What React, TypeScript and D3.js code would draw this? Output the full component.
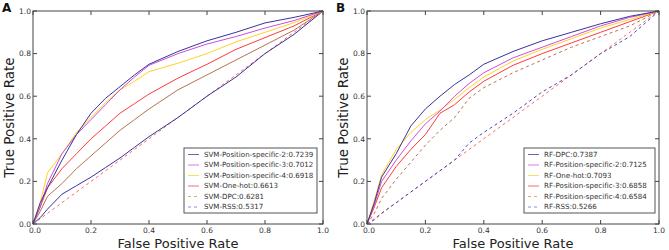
import React, { useEffect, useRef } from 'react';
import * as d3 from 'd3';

// shared false positive rate grid
const fpr = [0, 0.025, 0.05, 0.1, 0.15, 0.2, 0.25, 0.3, 0.35, 0.4, 0.5, 0.6, 0.7, 0.8, 0.9, 1];
const ticks = [0, 0.2, 0.4, 0.6, 0.8, 1.0];

// panel A - SVM
const svmPs2 = [0, 0.10, 0.17, 0.30, 0.42, 0.52, 0.59, 0.645, 0.70, 0.75, 0.81, 0.86, 0.90, 0.944, 0.97, 1];
const svmPs3 = [0, 0.08, 0.19, 0.33, 0.42, 0.49, 0.56, 0.63, 0.69, 0.745, 0.80, 0.845, 0.88, 0.92, 0.955, 1];
const svmPs4 = [0, 0.10, 0.24, 0.33, 0.43, 0.50, 0.57, 0.63, 0.67, 0.715, 0.755, 0.80, 0.855, 0.90, 0.945, 1];
const svmOneHot = [0, 0.08, 0.17, 0.26, 0.33, 0.40, 0.46, 0.52, 0.565, 0.61, 0.685, 0.75, 0.82, 0.875, 0.93, 1];
const svmDpc = [0, 0.06, 0.13, 0.19, 0.26, 0.32, 0.38, 0.44, 0.49, 0.54, 0.63, 0.70, 0.77, 0.84, 0.91, 1];
const svmRss = [0, 0.03, 0.07, 0.14, 0.18, 0.22, 0.265, 0.31, 0.36, 0.41, 0.50, 0.60, 0.69, 0.80, 0.89, 1];

// panel B - RF
const rfDpc = [0, 0.10, 0.22, 0.33, 0.46, 0.54, 0.60, 0.655, 0.70, 0.75, 0.81, 0.86, 0.90, 0.94, 0.975, 1];
const rfPs2 = [0, 0.09, 0.20, 0.30, 0.39, 0.47, 0.53, 0.60, 0.66, 0.71, 0.78, 0.83, 0.88, 0.93, 0.97, 1];
const rfOneHot = [0, 0.11, 0.23, 0.35, 0.43, 0.49, 0.535, 0.585, 0.64, 0.69, 0.765, 0.82, 0.87, 0.92, 0.96, 1];
const rfPs3 = [0, 0.08, 0.17, 0.27, 0.35, 0.42, 0.52, 0.56, 0.62, 0.67, 0.745, 0.80, 0.85, 0.90, 0.95, 1];
const rfPs4 = [0, 0.05, 0.12, 0.21, 0.29, 0.37, 0.44, 0.50, 0.59, 0.64, 0.71, 0.77, 0.83, 0.88, 0.93, 1];
const rfRss = [0, 0.02, 0.05, 0.10, 0.15, 0.20, 0.25, 0.30, 0.38, 0.43, 0.52, 0.62, 0.70, 0.80, 0.88, 1];

const NAVY = '#35359c';
const VIOLET = '#cf4ddc';
const GOLD = '#ffd224';
const RED = '#ff3a3a';
const BROWN = '#b5744f';
const SALMON = '#ff6a6a';
const BLUE_DASH = '#4848b8';

type Series = { name: string; values: number[]; color: string; dash: boolean; legendColor: string };

const panelA: Series[] = [
  { name: 'SVM-Position-specific-2:0.7239', values: svmPs2, color: NAVY, dash: false, legendColor: NAVY },
  { name: 'SVM-Position-specific-3:0.7012', values: svmPs3, color: VIOLET, dash: false, legendColor: VIOLET },
  { name: 'SVM-Position-specific-4:0.6918', values: svmPs4, color: GOLD, dash: false, legendColor: GOLD },
  { name: 'SVM-One-hot:0.6613', values: svmOneHot, color: RED, dash: false, legendColor: RED },
  { name: 'SVM-DPC:0.6281', values: svmDpc, color: BROWN, dash: false, legendColor: '#e0805f' },
  { name: 'SVM-RSS:0.5317', values: svmRss, color: NAVY, dash: false, legendColor: '#6a6ad0' },
];

const panelB: Series[] = [
  { name: 'RF-DPC:0.7387', values: rfDpc, color: NAVY, dash: false, legendColor: NAVY },
  { name: 'RF-Position-specific-2:0.7125', values: rfPs2, color: VIOLET, dash: false, legendColor: VIOLET },
  { name: 'RF-One-hot:0.7093', values: rfOneHot, color: GOLD, dash: false, legendColor: GOLD },
  { name: 'RF-Position-specific-3:0.6858', values: rfPs3, color: RED, dash: false, legendColor: RED },
  { name: 'RF-Position-specific-4:0.6584', values: rfPs4, color: BROWN, dash: true, legendColor: '#e0805f' },
  { name: 'RF-RSS:0.5266', values: rfRss, color: BLUE_DASH, dash: true, legendColor: '#6a6ad0' },
];

const App = () => {
  const ref = useRef<SVGSVGElement>(null);

  useEffect(() => {
    const svg = d3.select(ref.current);
    svg.selectAll('*').remove();

    const drawPanel = (letter: string, series: Series[], left: number, right: number, legendBox: number[]) => {
      const top = 11;
      const bottom = 224;
      const x = d3.scaleLinear().domain([0, 1]).range([left, right]);
      const y = d3.scaleLinear().domain([0, 1]).range([bottom, top]);
      const g = svg.append('g');

      // panel letter
      g.append('text')
        .attr('x', left - 31)
        .attr('y', 12)
        .attr('font-size', 12)
        .attr('font-weight', 'bold')
        .attr('fill', '#111')
        .text(letter);

      // chance diagonal
      g.append('line')
        .attr('x1', x(0)).attr('y1', y(0))
        .attr('x2', x(1)).attr('y2', y(1))
        .attr('stroke', SALMON)
        .attr('stroke-width', 1)
        .attr('stroke-dasharray', '3,3');

      const line = d3.line<number>()
        .x((d, i) => x(fpr[i]))
        .y(d => y(d));

      // draw lower curves first so the top ones sit above
      series.slice().reverse().forEach(s => {
        g.append('path')
          .datum(s.values)
          .attr('fill', 'none')
          .attr('stroke', s.color)
          .attr('stroke-width', 1)
          .attr('stroke-dasharray', s.dash ? '3,3' : null)
          .attr('d', line);
      });

      // frame
      g.append('rect')
        .attr('x', left).attr('y', top)
        .attr('width', right - left).attr('height', bottom - top)
        .attr('fill', 'none')
        .attr('stroke', '#444')
        .attr('stroke-width', 1);

      // inward ticks on all four sides
      ticks.forEach(t => {
        g.append('line').attr('x1', x(t)).attr('x2', x(t)).attr('y1', bottom).attr('y2', bottom - 4).attr('stroke', '#444');
        g.append('line').attr('x1', x(t)).attr('x2', x(t)).attr('y1', top).attr('y2', top + 4).attr('stroke', '#444');
        g.append('line').attr('x1', left).attr('x2', left + 4).attr('y1', y(t)).attr('y2', y(t)).attr('stroke', '#444');
        g.append('line').attr('x1', right).attr('x2', right - 4).attr('y1', y(t)).attr('y2', y(t)).attr('stroke', '#444');

        g.append('text')
          .attr('x', x(t) + (t === 0 ? 2 : 0))
          .attr('y', bottom + 9)
          .attr('text-anchor', 'middle')
          .attr('font-size', 7.5)
          .attr('fill', '#333')
          .text(t.toFixed(1));

        g.append('text')
          .attr('x', left - 2)
          .attr('y', y(t) + 2.7)
          .attr('text-anchor', 'end')
          .attr('font-size', 7.5)
          .attr('fill', '#333')
          .text(t.toFixed(1));
      });

      // axis labels
      g.append('text')
        .attr('x', (left + right) / 2)
        .attr('y', 248)
        .attr('text-anchor', 'middle')
        .attr('font-size', 13)
        .attr('fill', '#222')
        .text('False Positive Rate');

      g.append('text')
        .attr('transform', `translate(${left - 19},${(top + bottom) / 2}) rotate(-90)`)
        .attr('text-anchor', 'middle')
        .attr('font-size', 13.5)
        .attr('fill', '#222')
        .text('True Positive Rate');

      // legend
      const [lx, ly, lw, lh] = legendBox;
      const legend = g.append('g');
      legend.append('rect')
        .attr('x', lx).attr('y', ly)
        .attr('width', lw).attr('height', lh)
        .attr('fill', 'white')
        .attr('stroke', '#555')
        .attr('stroke-width', 1);

      series.forEach((s, i) => {
        const rowY = ly + 6.5 + i * 10.5;
        legend.append('line')
          .attr('x1', lx + 4).attr('x2', lx + 15)
          .attr('y1', rowY).attr('y2', rowY)
          .attr('stroke', s.legendColor)
          .attr('stroke-opacity', 0.75)
          .attr('stroke-width', 1)
          .attr('stroke-dasharray', i >= 4 ? '3,3' : null);
        legend.append('text')
          .attr('x', lx + 20)
          .attr('y', rowY + 2.4)
          .attr('font-size', 7.1)
          .attr('fill', '#333')
          .text(s.name);
      });
    };

    drawPanel('A', panelA, 33, 323, [184, 148, 133, 65]);
    drawPanel('B', panelB, 367, 659, [524, 148, 131, 65]);
  }, []);

  return (
    <svg
      ref={ref}
      width={669}
      height={250}
      style={{ position: 'absolute', left: 0, top: 0, background: 'white', fontFamily: 'DejaVu Sans, sans-serif' }}
    />
  );
};

export default App;
